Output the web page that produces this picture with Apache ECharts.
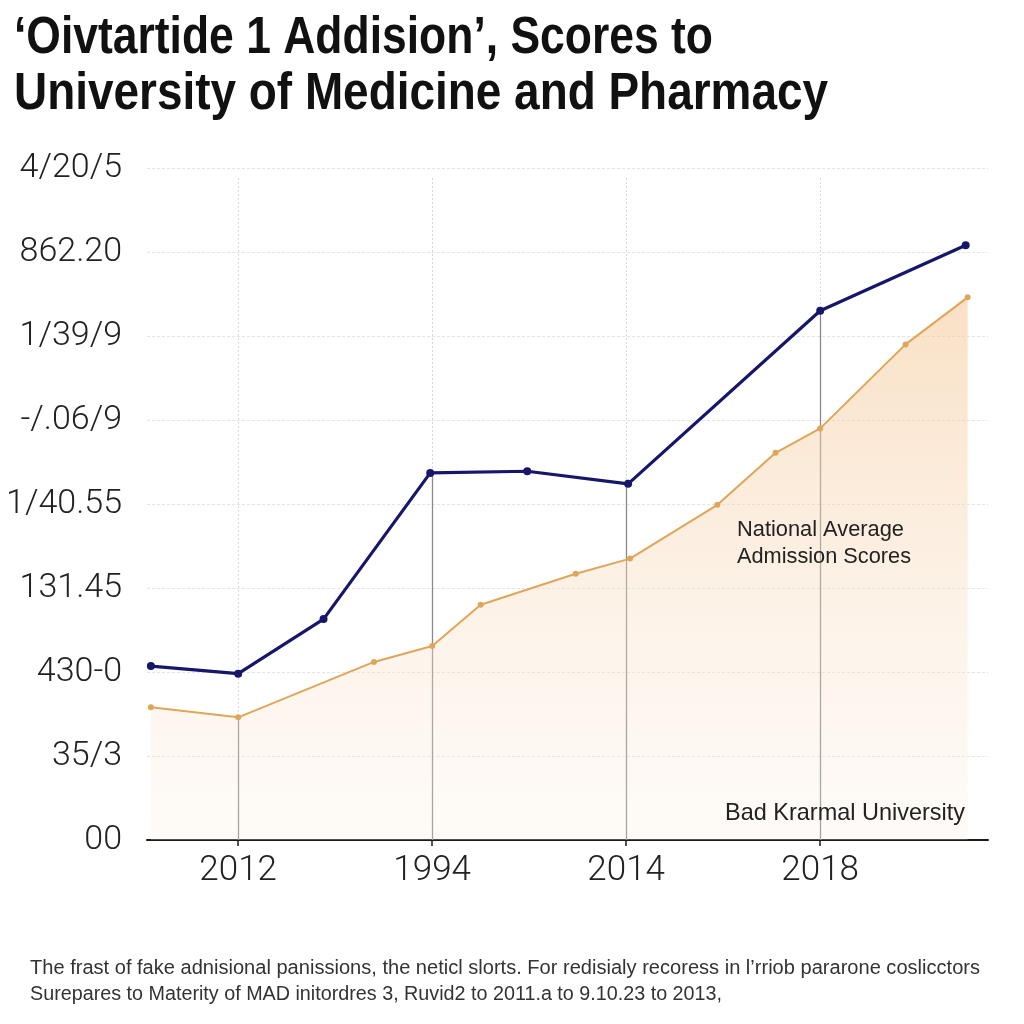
<!DOCTYPE html>
<html>
<head>
<meta charset="utf-8">
<script src="https://cdn.jsdelivr.net/npm/echarts@6/dist/echarts.min.js"></script>
<style>html,body{margin:0;padding:0;background:#fff}#c{width:1024px;height:1024px}</style>
</head>
<body>
<div id="c"></div>
<script>
// ---- data ----
const yLabels = ['00', '35/3', '430-0', '131.45', '1/40.55', '-/.06/9', '1/39/9', '862.20', '4/20/5'];
const xLabels = ['2012', '1994', '2014', '2018'];
const xTickPos = [0, 1, 2, 3];
const universityX = [-0.45, 0, 0.44, 0.99, 1.49, 2.01, 3.0, 3.75];
const universityY = [2.07, 1.98, 2.63, 4.37, 4.39, 4.24, 6.30, 7.08];
const nationalX = [-0.45, 0, 0.70, 1.0, 1.25, 1.74, 2.02, 2.47, 2.77, 3.0, 3.44, 3.76];
const nationalY = [1.58, 1.46, 2.12, 2.31, 2.80, 3.17, 3.35, 3.99, 4.61, 4.90, 5.90, 6.46];
const vLineTop = [nationalY[1], universityY[3], universityY[5], universityY[6]];
const titleLines = ['\u2018Oivtartide 1 Addision\u2019, Scores to', 'University of Medicine and Pharmacy'];
const footerLines = [
  'The frast of fake adnisional panissions, the neticl slorts. For redisialy recoress in l\u2019rriob pararone coslicctors',
  'Surepares to Materity of MAD initordres 3, Ruvid2 to 2011.a to 9.10.23 to 2013,'
];
const nationalLabel = ['National Average', 'Admission Scores'];
const universityLabel = 'Bad Krarmal University';

// ---- helpers ----
const mctx = document.createElement('canvas').getContext('2d');
function fitText(text, font, left, cy, targetW, fill) {
  mctx.font = font;
  const w = mctx.measureText(text).width;
  return {
    type: 'text', x: left, y: cy, scaleX: targetW / w, originX: 0, originY: 0, z: 100,
    style: { text: text, font: font, fill: fill, textVerticalAlign: 'middle', textAlign: 'left' },
    silent: true
  };
}

const chart = echarts.init(document.getElementById('c'), null, { renderer: 'canvas' });
const pair = (xs, ys) => xs.map((x, i) => [x, ys[i]]);

const dottedV = xTickPos.map(x => [
  { coord: [x, 0], lineStyle: { color: '#d8d8d8', width: 1, type: [2, 2] } },
  { coord: [x, 7.88] }
]);
const solidV = xTickPos.map((x, i) => [
  { coord: [x, 0], lineStyle: { color: '#8a8a8a', width: 1.3, type: 'solid' } },
  { coord: [x, vLineTop[i]] }
]);

chart.setOption({
  animation: false,
  backgroundColor: '#ffffff',
  grid: { left: 147, right: 36, top: 168, bottom: 184, containLabel: false },
  xAxis: {
    type: 'value', min: -0.47, max: 3.865,
    axisLine: { show: true, onZero: false, lineStyle: { color: '#1a1a1a', width: 2 } },
    axisTick: { show: true, customValues: xTickPos, length: 6, lineStyle: { color: '#1a1a1a', width: 1.5 } },
    axisLabel: {
      customValues: xTickPos,
      formatter: v => xLabels[Math.round(v)] || '',
      fontFamily: 'Roboto', fontWeight: 300, fontSize: 35, color: '#222', margin: 14
    },
    splitLine: { show: false }
  },
  yAxis: {
    type: 'value', min: 0, max: 8, interval: 1,
    axisLine: { show: false }, axisTick: { show: false },
    axisLabel: {
      formatter: v => yLabels[Math.round(v)] || '',
      fontFamily: 'Roboto', fontWeight: 300, fontSize: 34, color: '#222', margin: 25
    },
    splitLine: { show: true, lineStyle: { color: '#e4e4e4', width: 1, type: [3, 2] } }
  },
  series: [
    {
      type: 'line', name: 'National', data: pair(nationalX, nationalY), z: 2,
      symbol: 'circle', symbolSize: 6,
      lineStyle: { color: '#dfa65a', width: 2 },
      itemStyle: { color: '#dfa65a' },
      areaStyle: {
        origin: 'start',
        color: new echarts.graphic.LinearGradient(0, 0, 0, 1, [
          { offset: 0, color: 'rgba(244,198,148,0.78)' },
          { offset: 1, color: 'rgba(252,238,224,0.35)' }
        ])
      },
      markLine: {
        z: 1,
        silent: true, symbol: 'none', label: { show: false },
        data: dottedV.concat(solidV)
      }
    },
    {
      type: 'line', name: 'University', data: pair(universityX, universityY), z: 3,
      symbol: 'circle', symbolSize: 8,
      lineStyle: { color: '#16166b', width: 3.2 },
      itemStyle: { color: '#16166b' }
    }
  ],
  graphic: [
    fitText(titleLines[0], 'bold 51px "Liberation Sans"', 14, 39, 699, '#111'),
    fitText(titleLines[1], 'bold 51px "Liberation Sans"', 14, 95, 814, '#111'),
    fitText(nationalLabel[0], '22px "Liberation Sans"', 737, 530, 167, '#222'),
    fitText(nationalLabel[1], '22px "Liberation Sans"', 737, 557, 174, '#222'),
    fitText(universityLabel, '24px "Liberation Sans"', 725, 813, 240, '#222'),
    fitText(footerLines[0], '20px "Liberation Sans"', 30, 968, 950, '#333'),
    fitText(footerLines[1], '20px "Liberation Sans"', 30, 994, 692, '#333')
  ]
});
</script>
</body>
</html>
